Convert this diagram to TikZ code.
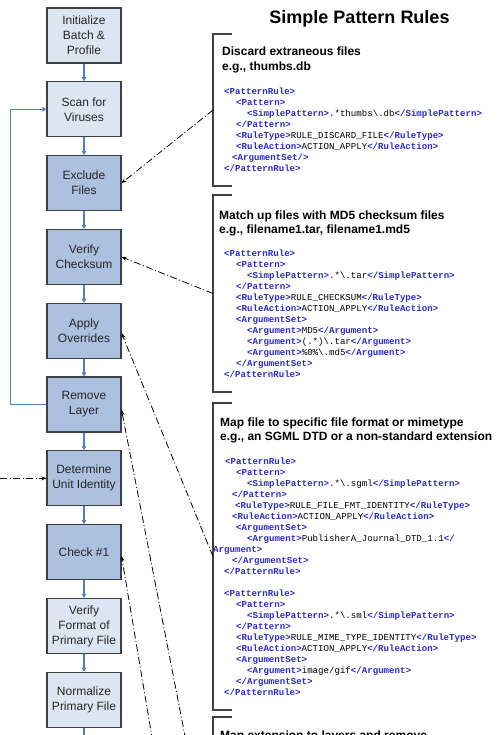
\documentclass[tikz,border=0pt]{standalone}
\usepackage{fontspec}
\setmainfont{Liberation Sans}
\newfontfamily\codefont{Liberation Mono}
\usetikzlibrary{arrows.meta,calc}

\definecolor{boxline}{HTML}{404040}
\definecolor{lightfill}{HTML}{DCE6F2}
\definecolor{darkfill}{HTML}{ABC1DF}
\definecolor{flowblue}{HTML}{4F81BD}
\definecolor{tagblue}{HTML}{2B2BC8}
\definecolor{textgray}{HTML}{262626}
\definecolor{bracketgray}{HTML}{404040}

% XML tag in bold blue, indentation in points
\newcommand\tg[1]{\textcolor{tagblue}{\bfseries #1}}
\newcommand\ind[1]{\hspace*{#1pt}}
\newcommand\bs{\textbackslash}

\begin{document}
\begin{tikzpicture}[x=1pt,y=-1pt,
  stepbox/.style={draw=boxline, line width=1.1pt, minimum width=74pt, minimum height=55pt,
    inner sep=2pt, align=center, text=textgray, font=\fontsize{12}{15}\selectfont},
  lightbox/.style={stepbox, fill=lightfill},
  darkbox/.style={stepbox, fill=darkfill},
  flow/.style={draw=flowblue, line width=1.4pt, -{Triangle[length=4pt,width=4.5pt]}},
  ruleref/.style={draw=black, line width=0.8pt, dash pattern=on 7pt off 2.5pt on 1pt off 2.5pt,
    -{Stealth[length=5pt,width=4pt]}},
  bracket/.style={draw=bracketgray, line width=1.3pt},
  heading/.style={anchor=north west, inner sep=0pt, align=left,
    font=\bfseries\fontsize{12}{14.5}\selectfont, text=black},
  code/.style={anchor=north west, inner sep=0pt, align=left,
    font=\codefont\fontsize{9.1}{11}\selectfont, text=black},
]
\useasboundingbox (0,0) rectangle (501,735);
\clip (0,0) rectangle (501,735);
\fill[white] (0,0) rectangle (501,735);

% ---------------- processing steps ----------------
\node[lightbox] (init)   at (84,35.5)  {Initialize\\Batch \&\\Profile};
\node[lightbox] (scan)   at (84,109.3) {Scan for\\Viruses};
\node[darkbox]  (excl)   at (84,183.1) {Exclude\\Files};
\node[darkbox]  (chk)    at (84,256.9) {Verify\\Checksum};
\node[darkbox]  (ovr)    at (84,330.7) {Apply\\Overrides};
\node[darkbox]  (rem)    at (84,404.5) {Remove\\Layer};
\node[darkbox]  (ident)  at (84,478.3) {Determine\\Unit Identity};
\node[darkbox]  (check1) at (84,552.1) {Check \#1};
\node[lightbox] (fmt)    at (84,625.9) {Verify\\Format of\\Primary File};
\node[lightbox] (norm)   at (84,699.7) {Normalize\\Primary File};
\coordinate (flowout) at (84,748);

\draw[flow] (init) -- (scan);
\draw[flow] (scan) -- (excl);
\draw[flow] (excl) -- (chk);
\draw[flow] (chk) -- (ovr);
\draw[flow] (ovr) -- (rem);
\draw[flow] (rem) -- (ident);
\draw[flow] (ident) -- (check1);
\draw[flow] (check1) -- (fmt);
\draw[flow] (fmt) -- (norm);
\draw[flow] (norm) -- (flowout);
\draw[flow] (rem.west) -- ++(-36,0) |- (scan.west);

% ---------------- rule panel ----------------
\node[anchor=base, inner sep=0pt, font=\bfseries\fontsize{18}{20}\selectfont] (title)
  at (359.5,23.5) {Simple Pattern Rules};

\draw[bracket] (232,34) -- (213,34) -- (213,186) -- (232,186);
\draw[bracket] (232,195) -- (213,195) -- (213,392) -- (232,392);
\draw[bracket] (232,403) -- (213,403) -- (213,710) -- (232,710);
\draw[bracket] (232,717) -- (213,717) -- (213,770);

\coordinate (r1) at (213,110);
\coordinate (r2) at (213,293.5);
\coordinate (r3) at (213,556.5);
\coordinate (r4) at (213,880);
\coordinate (r5) at (213,1100);
\coordinate (ext) at (0,478.3);

\node[heading] (h1) at (222,47) {Discard extraneous files\\e.g., thumbs.db};
\node[code] (c1) at (224,87.5) {%
\tg{<PatternRule>}\\
\ind{12}\tg{<Pattern>}\\
\ind{23}\tg{<SimplePattern>}.*thumbs\bs.db\tg{</SimplePattern>}\\
\ind{12}\tg{</Pattern>}\\
\ind{12}\tg{<RuleType>}RULE\_DISCARD\_FILE\tg{</RuleType>}\\
\ind{12}\tg{<RuleAction>}ACTION\_APPLY\tg{</RuleAction>}\\
\ind{8}\tg{<ArgumentSet/>}\\
\tg{</PatternRule>}};

\node[heading] (h2) at (219,210.5) {Match up files with MD5 checksum files\\e.g., filename1.tar, filename1.md5};
\node[code] (c2) at (224,249.5) {%
\tg{<PatternRule>}\\
\ind{12}\tg{<Pattern>}\\
\ind{23}\tg{<SimplePattern>}.*\bs.tar\tg{</SimplePattern>}\\
\ind{12}\tg{</Pattern>}\\
\ind{12}\tg{<RuleType>}RULE\_CHECKSUM\tg{</RuleType>}\\
\ind{12}\tg{<RuleAction>}ACTION\_APPLY\tg{</RuleAction>}\\
\ind{12}\tg{<ArgumentSet>}\\
\ind{23}\tg{<Argument>}MD5\tg{</Argument>}\\
\ind{23}\tg{<Argument>}(.*)\bs.tar\tg{</Argument>}\\
\ind{23}\tg{<Argument>}\%0\%\bs.md5\tg{</Argument>}\\
\ind{12}\tg{</ArgumentSet>}\\
\tg{</PatternRule>}};

\node[heading] (h3) at (220,417.5) {Map file to specific file format or mimetype\\ e.g., an SGML DTD or a non-standard extension};
\node[code] (c3) at (213,457.5) {%
\ind{12}\tg{<PatternRule>}\\
\ind{23}\tg{<Pattern>}\\
\ind{34}\tg{<SimplePattern>}.*\bs.sgml\tg{</SimplePattern>}\\
\ind{19}\tg{</Pattern>}\\
\ind{22}\tg{<RuleType>}RULE\_FILE\_FMT\_IDENTITY\tg{</RuleType>}\\
\ind{19}\tg{<RuleAction>}ACTION\_APPLY\tg{</RuleAction>}\\
\ind{23}\tg{<ArgumentSet>}\\
\ind{34}\tg{<Argument>}PublisherA\_Journal\_DTD\_1.1\tg{</}\\
\tg{Argument>}\\
\ind{19}\tg{</ArgumentSet>}\\
\ind{11}\tg{</PatternRule>}\\[11pt]
\ind{11}\tg{<PatternRule>}\\
\ind{23}\tg{<Pattern>}\\
\ind{34}\tg{<SimplePattern>}.*\bs.sml\tg{</SimplePattern>}\\
\ind{23}\tg{</Pattern>}\\
\ind{23}\tg{<RuleType>}RULE\_MIME\_TYPE\_IDENTITY\tg{</RuleType>}\\
\ind{23}\tg{<RuleAction>}ACTION\_APPLY\tg{</RuleAction>}\\
\ind{23}\tg{<ArgumentSet>}\\
\ind{34}\tg{<Argument>}image/gif\tg{</Argument>}\\
\ind{23}\tg{</ArgumentSet>}\\
\ind{11}\tg{</PatternRule>}};

\node[heading] (h4) at (220,731) {Map extension to layers and remove};

% ---------------- rule references ----------------
\draw[ruleref] (r1) -- (excl.east);
\draw[ruleref] (r2) -- (chk.east);
\draw[ruleref] (r3) -- ([yshift=-2.5pt]ovr.east);
\draw[ruleref] (r4) -- ([yshift=-5.5pt]rem.east);
\draw[ruleref] (r5) -- ([yshift=-4pt]check1.east);
\draw[ruleref] (ext) -- (ident.west);
\end{tikzpicture}
\end{document}
